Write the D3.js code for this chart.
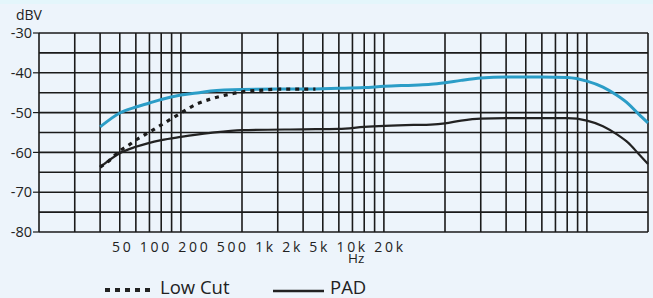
<!DOCTYPE html>
<html><head><meta charset="utf-8">
<script src="https://cdn.jsdelivr.net/npm/d3@7"></script>
<style>
html,body{margin:0;padding:0;background:#edf4fb;}
svg{display:block;font-family:"Open Sans","Noto Sans",sans-serif;}
</style></head>
<body><svg id="c" width="653" height="298"></svg>
<script>
// ---- data ----
const yTicks = [-30, -40, -50, -60, -70, -80];
const yGrid = [-30, -35, -40, -45, -50, -55, -60, -65, -70, -75, -80];
const gridDecades = [10, 100, 1000];
const gridSteps = [1, 1.5, 2, 2.5, 3, 3.5, 4, 4.5, 5];
const freqLabels = ["50", "100", "200", "500", "1k", "2k", "5k", "10k", "20k"];
const standardF = [20, 25, 30, 35, 40, 50, 60, 70, 100, 150, 200, 300, 400, 500, 700, 850, 1000, 1200, 1500, 2000, 3000, 4000, 5000, 6000, 7000, 8000, 9000, 10000];
const standardDb = [-53.6, -50.1, -48.6, -47.6, -46.7, -45.6, -45.1, -44.6, -44.2, -44.1, -44.1, -43.9, -43.7, -43.4, -43.1, -42.9, -42.5, -41.9, -41.3, -41.05, -41.05, -41.2, -42.1, -43.6, -45.6, -47.8, -50.4, -52.6];
const padF = [20, 25, 30, 40, 50, 70, 100, 200, 300, 400, 700, 850, 1000, 1200, 1500, 2000, 4000, 5000, 6000, 7000, 8000, 9000, 10000];
const padDb = [-63.7, -60.2, -58.6, -56.9, -56.1, -55.1, -54.4, -54.2, -54.1, -53.6, -53.1, -53.0, -52.7, -52.0, -51.5, -51.4, -51.4, -52.0, -53.4, -55.4, -57.6, -60.4, -62.9];
const lowCutF = [20, 22, 25, 28, 30, 35, 40, 45, 50, 60, 70, 80, 100, 130, 150, 200, 230];
const lowCutDb = [-63.7, -62.2, -59.6, -58.0, -56.9, -54.9, -53.1, -51.5, -50.1, -47.8, -46.6, -45.8, -44.8, -44.3, -44.1, -44.1, -44.1];
const legendItems = ["Low Cut", "PAD"];

// ---- layout ----
const svg = d3.select("#c");
const x = d3.scaleLog().domain([10, 10000]).range([39, 648]);
const y = d3.scaleLinear().domain([-80, -30]).range([232, 33]);
const ink = "#1a1a1a";

svg.append("rect").attr("x",0).attr("y",0).attr("width",653).attr("height",298).attr("fill","#edf4fb");
svg.append("rect").attr("x",0).attr("y",0).attr("width",653).attr("height",4).attr("fill","#e4f6fb");

// vertical grid
const vLines = [];
gridDecades.forEach(d => gridSteps.forEach(s => vLines.push(d * s)));
vLines.push(10000);
svg.append("g").selectAll("line").data(vLines).join("line")
  .attr("x1", d => x(d)).attr("x2", d => x(d))
  .attr("y1", y(-30)).attr("y2", y(-80))
  .attr("stroke", ink).attr("stroke-width", 1.6);

// horizontal grid
svg.append("g").selectAll("line").data(yGrid).join("line")
  .attr("x1", x(10)).attr("x2", x(10000))
  .attr("y1", d => y(d)).attr("y2", d => y(d))
  .attr("stroke", ink).attr("stroke-width", 1.6);

// y axis ticks + labels
const yg = svg.append("g");
yg.selectAll("line").data(yTicks).join("line")
  .attr("x1", 33).attr("x2", x(10)).attr("y1", d => y(d)).attr("y2", d => y(d))
  .attr("stroke", ink).attr("stroke-width", 1.2);
yg.selectAll("text").data(yTicks).join("text")
  .attr("x", 32).attr("y", d => y(d)).attr("dy", "0.36em")
  .attr("text-anchor", "end").attr("font-size", 14.5).attr("fill", "#222")
  .text(d => d);
svg.append("text").attr("x", 16).attr("y", 20).attr("font-size", 14).attr("fill", "#222").text("dBV");

// x labels
svg.append("text").attr("x", 112).attr("y", 252)
  .attr("font-size", 14).attr("fill", "#222")
  .attr("textLength", 291).attr("lengthAdjust", "spacing")
  .text(freqLabels.join(" "));
svg.append("text").attr("x", 348).attr("y", 263).attr("font-size", 13.5).attr("fill", "#222").text("Hz");

// curves
const line = d3.line().x(d => x(d[0])).y(d => y(d[1])).curve(d3.curveMonotoneX);
svg.append("path").datum(standardF.map((f, i) => [f, standardDb[i]]))
  .attr("d", line).attr("fill", "none").attr("stroke", "#2b9dc7").attr("stroke-width", 3);
svg.append("path").datum(padF.map((f, i) => [f, padDb[i]]))
  .attr("d", line).attr("fill", "none").attr("stroke", "#222").attr("stroke-width", 2.2);
svg.append("path").datum(lowCutF.map((f, i) => [f, lowCutDb[i]]))
  .attr("d", line).attr("fill", "none").attr("stroke", "#1b1b1b").attr("stroke-width", 3.2)
  .attr("stroke-dasharray", "4,5");

// legend
const lg = svg.append("g");
lg.append("line").attr("x1", 105).attr("x2", 153).attr("y1", 290).attr("y2", 290)
  .attr("stroke", "#222").attr("stroke-width", 4).attr("stroke-dasharray", "5,5");
lg.append("text").attr("x", 160).attr("y", 294).attr("font-size", 18.5).attr("fill", "#222").text(legendItems[0]);
lg.append("line").attr("x1", 273).attr("x2", 324).attr("y1", 291).attr("y2", 291)
  .attr("stroke", "#222").attr("stroke-width", 2.5);
lg.append("text").attr("x", 330).attr("y", 294).attr("font-size", 18.5).attr("fill", "#222").text(legendItems[1]);
</script></body></html>
